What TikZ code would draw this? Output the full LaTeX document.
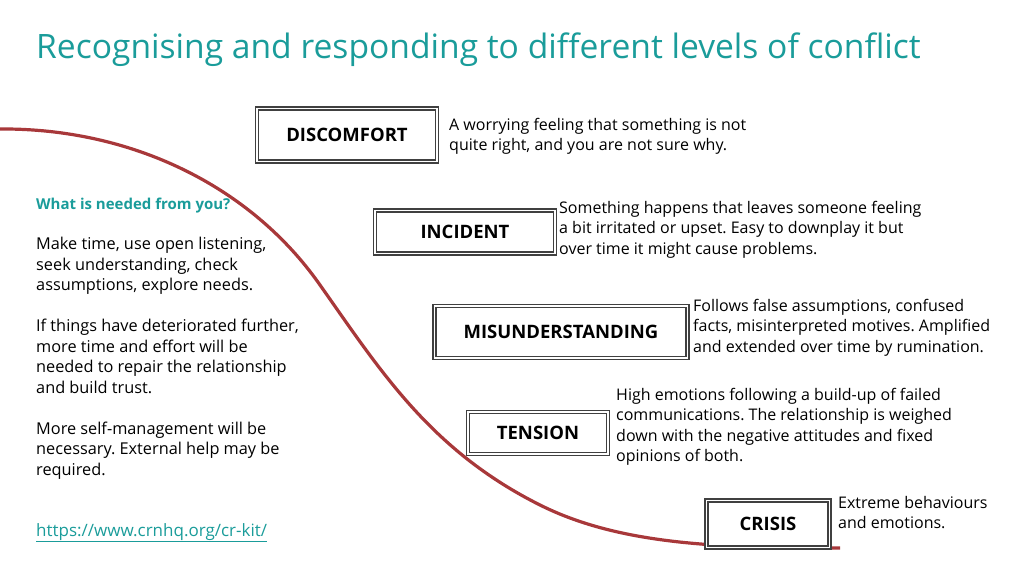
\documentclass[tikz,border=0pt]{standalone}
\usepackage{fontspec}
\setmainfont{Open Sans}
\definecolor{teal1}{HTML}{1A9C9A}
\definecolor{curvered}{HTML}{A8383A}
\begin{document}
\frenchspacing
\begin{tikzpicture}[x=1pt,y=-1pt,
  lvl/.style={draw=black!75,line width=1.6pt,fill=white,inner sep=0pt,font=\bfseries\fontsize{18.5}{20}\selectfont,
    double=white,double distance=1.2pt},
  desc/.style={anchor=north west,align=left,font=\fontsize{16}{20.5}\selectfont,inner sep=0pt}]
\path[use as bounding box] (0,0) rectangle (1024,576);
\node[anchor=north west,text=teal1,font=\fontsize{33.6}{38}\selectfont,inner sep=0pt] (title) at (36,33) {Recognising and responding to different levels of conflict};
\draw[curvered,line width=3.2pt] (0,129) .. controls (130,128) and (250,185) .. (320,285)
  .. controls (380,370) and (430,450) .. (540,505) .. controls (620,545) and (720,548) .. (840,548);
\node[lvl,minimum width=180,minimum height=53] (b1) at (347,135) {DISCOMFORT};
\node[lvl,minimum width=180,minimum height=43] (b2) at (465,232) {INCIDENT};
\node[lvl,minimum width=253,minimum height=52] (b3) at (561,332) {MISUNDERSTANDING};
\node[lvl,minimum width=140,minimum height=42] (b4) at (538,433) {TENSION};
\node[lvl,minimum width=123,minimum height=47] (b5) at (768,524) {CRISIS};
\node[desc] (d1) at (449,118) {A worrying feeling that something is not\\quite right, and you are not sure why.};
\node[desc] (d2) at (559,201) {Something happens that leaves someone feeling\\a bit irritated or upset. Easy to downplay it but\\over time it might cause problems.};
\node[desc] (d3) at (693,299) {Follows false assumptions, confused\\facts, misinterpreted motives. Amplified\\and extended over time by rumination.};
\node[desc] (d4) at (616,388) {High emotions following a build-up of failed\\communications. The relationship is weighed\\down with the negative attitudes and fixed\\opinions of both.};
\node[desc] (d5) at (838,496) {Extreme behaviours\\and emotions.};
\node[desc,text=teal1,font=\bfseries\fontsize{15}{20}\selectfont] (q) at (36,198) {What is needed from you?};
\node[desc,font=\fontsize{16.3}{20.5}\selectfont] (p) at (36,237) {Make time, use open listening,\\seek understanding, check\\assumptions, explore needs.\\[20.5pt]If things have deteriorated further,\\more time and effort will be\\needed to repair the relationship\\and build trust.\\[20.5pt]More self-management will be\\necessary. External help may be\\required.};
\node[desc,text=teal1,font=\fontsize{17}{20.5}\selectfont] (url) at (36,523) {\underline{https://www.crnhq.org/cr-kit/}};
\end{tikzpicture}
\end{document}
